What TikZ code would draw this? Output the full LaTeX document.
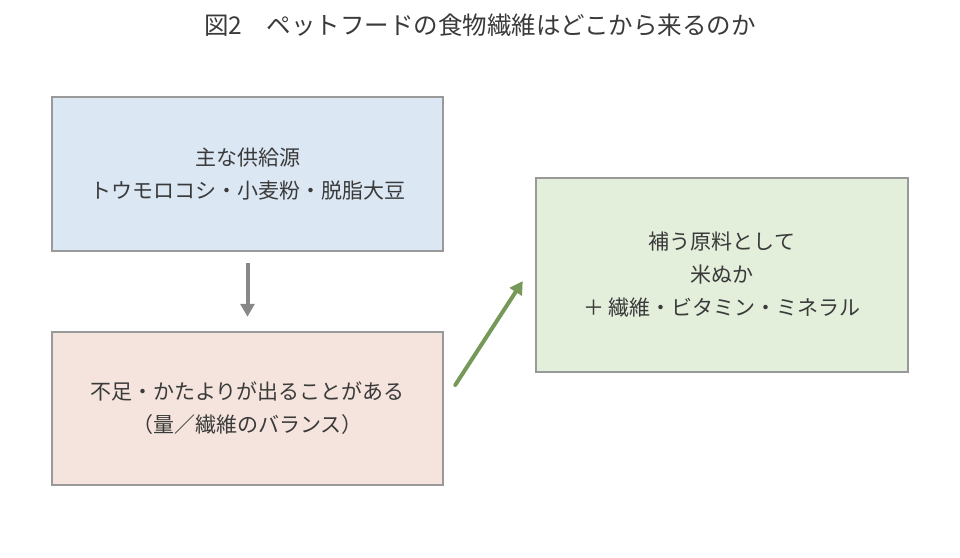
\documentclass[tikz,border=0pt]{standalone}
\usepackage{fontspec}
\newfontfamily\jpfont{Noto Sans CJK JP}
\usetikzlibrary{arrows.meta,calc}
\definecolor{boxline}{HTML}{999999}
\definecolor{textgray}{HTML}{3A3A3A}
\definecolor{blueBox}{HTML}{DCE7F4}
\definecolor{pinkBox}{HTML}{F4E4DD}
\definecolor{greenBox}{HTML}{E3EEDB}
\definecolor{grayArrow}{HTML}{888888}
\definecolor{greenArrow}{HTML}{76995A}
\begin{document}
\begin{tikzpicture}[x=1pt,y=-1pt,
  box/.style={draw=boxline,line width=2.5pt,align=center,text=textgray,
    font=\jpfont\fontsize{21}{33}\selectfont},
  flow/.style={line width=4pt,-{Triangle[length=13pt,width=14pt]}}]
  \useasboundingbox (0,0) rectangle (960,557);
  % title
  \node[text=textgray,font=\jpfont\fontsize{24.5}{28}\selectfont] (title) at (480,25)
    {図2　ペットフードの食物繊維はどこから来るのか};
  % boxes
  \node[box,fill=blueBox,minimum width=391pt,minimum height=154pt] (source) at (247.5,174)
    {主な供給源\\トウモロコシ・小麦粉・脱脂大豆};
  \node[box,fill=pinkBox,minimum width=391pt,minimum height=153pt] (issue) at (247.5,408.5)
    {不足・かたよりが出ることがある\\（量／繊維のバランス）};
  \node[box,fill=greenBox,minimum width=372pt,minimum height=194pt] (extra) at (722,275)
    {補う原料として\\米ぬか\\＋ 繊維・ビタミン・ミネラル};
  % arrows
  \draw[flow,grayArrow,shorten <=11pt,shorten >=14pt] (source.south) -- (issue.north);
  \coordinate (gfrom) at ($(issue.east)+(11,-23.5)$);
  \coordinate (gto) at ($(extra.west)+(-12,6)$);
  \draw[flow,greenArrow,line cap=round] (gfrom) -- (gto);
\end{tikzpicture}
\end{document}
